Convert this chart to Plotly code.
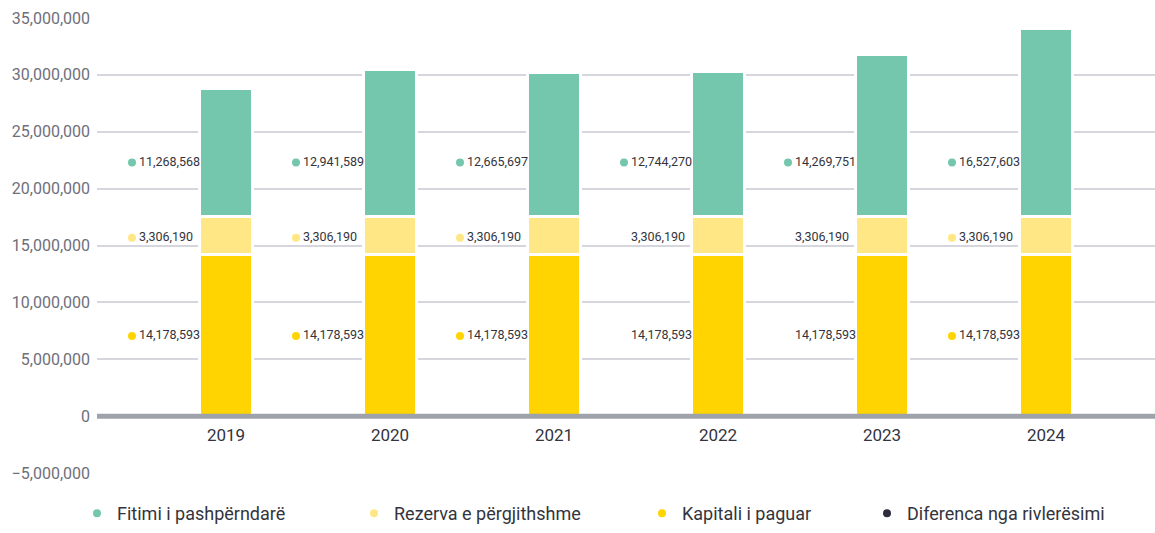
import plotly.graph_objects as go

# ---- data ----
years = ["2019", "2020", "2021", "2022", "2023", "2024"]
fitimi = [11268568, 12941589, 12665697, 12744270, 14269751, 16527603]
rezerva = [3306190, 3306190, 3306190, 3306190, 3306190, 3306190]
kapitali = [14178593, 14178593, 14178593, 14178593, 14178593, 14178593]
diferenca = [0, 0, 0, 0, 0, 0]

names = ["Fitimi i pashpërndarë", "Rezerva e përgjithshme", "Kapitali i paguar", "Diferenca nga rivlerësimi"]
colors = ["#74c6ad", "#fee784", "#ffd400", "#2b2d3b"]

# label layout (positions / styles)
label_y = {"fitimi": 22.3e6, "rezerva": 15.68e6, "kapitali": 7.05e6}
dot_shown = {
    "fitimi": [True, True, True, True, True, True],
    "rezerva": [True, True, True, False, False, True],
    "kapitali": [True, True, True, False, False, True],
}

FONT = "Roboto"
PX_PER_UNIT = 164.0
x = list(range(len(years)))

fig = go.Figure()

# stacked bars, bottom to top
for key, vals, nm, col in [
    ("kapitali", kapitali, names[2], colors[2]),
    ("rezerva", rezerva, names[1], colors[1]),
    ("fitimi", fitimi, names[0], colors[0]),
]:
    fig.add_trace(go.Bar(
        x=x, y=vals, name=nm, showlegend=False,
        width=53 / PX_PER_UNIT,
        marker=dict(color=col, line=dict(color="white", width=3)),
        hoverinfo="skip",
    ))

# data labels (dot + value) to the left of each bar
for key, vals, col in [
    ("fitimi", fitimi, colors[0]),
    ("rezerva", rezerva, colors[1]),
    ("kapitali", kapitali, colors[2]),
]:
    fig.add_trace(go.Scatter(
        x=[i - 87 / PX_PER_UNIT for i in x],
        y=[label_y[key]] * len(x),
        mode="text",
        text=[f"{v:,}" for v in vals],
        textposition="middle right",
        textfont=dict(family=FONT, size=12.5, color="#33343d"),
        showlegend=False, hoverinfo="skip",
    ))
    dx = [i - 94 / PX_PER_UNIT for i, s in zip(x, dot_shown[key]) if s]
    fig.add_trace(go.Scatter(
        x=dx, y=[label_y[key]] * len(dx), mode="markers",
        marker=dict(color=col, size=8, symbol="circle"),
        showlegend=False, hoverinfo="skip",
    ))

# legend entries, each in its own legend so they can be placed freely
legend_ids = ["legend", "legend2", "legend3", "legend4"]
legend_px = [103, 380, 668, 893]
for nm, col, lid in zip(names, colors, legend_ids):
    fig.add_trace(go.Scatter(
        x=[None], y=[None], mode="markers", name=nm,
        marker=dict(color=col, size=8, symbol="circle"),
        legend=lid, showlegend=True,
    ))

ymin, ymax = -5e6, 35e6
left, top, bottom = 97, 18, 60
plot_w = 1155 - left
plot_h = 533 - top - bottom

xmin = -(226 - left) / PX_PER_UNIT
xmax = xmin + plot_w / PX_PER_UNIT

layout_legends = {}
for lid, px in zip(legend_ids, legend_px):
    layout_legends[lid] = dict(
        x=(px - 26 - left) / plot_w, xanchor="left",
        y=-(bottom - 1) / plot_h, yanchor="bottom",
        orientation="h", bgcolor="rgba(0,0,0,0)",
        font=dict(family=FONT, size=18, color="#33343d"),
        itemwidth=30,
    )

fig.update_layout(
    width=1155, height=533,
    margin=dict(l=left, r=0, t=top, b=bottom),
    paper_bgcolor="white", plot_bgcolor="white",
    barmode="stack",
    bargap=0,
    font=dict(family=FONT),
    **layout_legends,
)

# thick baseline at zero, drawn over the bar bottoms
fig.add_shape(
    type="line", xref="paper", x0=0, x1=1, yref="y", y0=0, y1=0,
    line=dict(color="#9ea2aa", width=5), layer="above",
)

fig.update_xaxes(
    type="linear", range=[xmin, xmax],
    tickvals=x, ticktext=years,
    showgrid=False, zeroline=False, showline=False,
    anchor="free", position=(0 - ymin) / (ymax - ymin),
    ticks="", ticklabelstandoff=7,
    tickfont=dict(family=FONT, size=17, color="#33343d"),
)
fig.update_yaxes(
    range=[ymin, ymax], dtick=5e6, tickformat=",d",
    showgrid=True, gridcolor="#d6d6de", gridwidth=2,
    zeroline=False,
    showline=False, ticks="", ticklabelstandoff=6,
    tickfont=dict(family=FONT, size=16, color="#6e6f7b"),
)

fig.write_html("out.html")
